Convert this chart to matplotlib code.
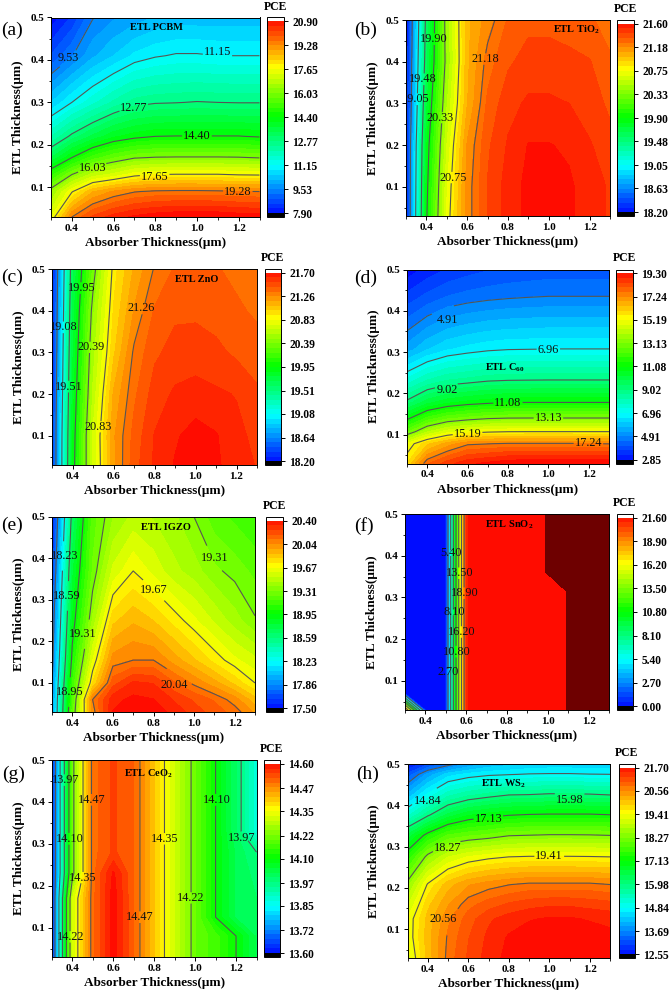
import numpy as np
import matplotlib
matplotlib.use('Agg')
import matplotlib.pyplot as plt
from matplotlib import cm
from matplotlib.colors import LinearSegmentedColormap, BoundaryNorm

plt.rcParams['font.family'] = ['Liberation Serif', 'DejaVu Serif']
plt.rcParams['mathtext.fontset'] = 'custom'
plt.rcParams['mathtext.bf'] = 'Liberation Serif:bold'
plt.rcParams['mathtext.rm'] = 'Liberation Serif:bold'

W, H = 672, 992

# absorber thickness columns, same for all panels
x_abs = [0.3, 0.4, 0.5, 0.6, 0.7, 0.8, 0.9, 1.0, 1.1, 1.2, 1.3]

# (a) PCBM
y_a = [0.03, 0.09, 0.13, 0.17, 0.22, 0.30, 0.41, 0.50]
z_a = [
    [17.3, 19.28, 20.0, 20.4, 20.65, 20.8, 20.88, 20.89, 20.88, 20.8, 20.75],
    [16.3, 17.6, 18.6, 19.0, 19.25, 19.35, 19.38, 19.38, 19.35, 19.3, 19.28],
    [14.9, 16.03, 16.8, 17.1, 17.5, 17.65, 17.68, 17.68, 17.68, 17.62, 17.6],
    [13.4, 14.4, 15.2, 15.65, 15.98, 16.06, 16.08, 16.08, 16.08, 16.06, 16.0],
    [12.1, 12.9, 13.5, 14.0, 14.25, 14.4, 14.42, 14.42, 14.42, 14.42, 14.35],
    [10.5, 11.15, 11.7, 12.2, 12.6, 12.72, 12.75, 12.8, 12.77, 12.75, 12.75],
    [8.9, 9.5, 10.1, 10.5, 10.9, 11.1, 11.2, 11.2, 11.15, 11.15, 11.15],
    [8.0, 8.6, 9.5, 9.8, 10.0, 10.2, 10.3, 10.3, 10.3, 10.3, 10.3],
]
ticks_a = [7.90, 9.53, 11.15, 12.77, 14.40, 16.03, 17.65, 19.28, 20.90]
labels_a = [(.381, .404), (1.10, .419), (.698, .287), (1.0, .222), (.498, .146), (.798, .124), (1.196, .09)]

# (b) TiO2
y_b = [0.03, 0.1, 0.2, 0.3, 0.4, 0.5]
z_b = [
    [18.3, 19.88, 20.68, 21.13, 21.35, 21.47, 21.54, 21.56, 21.53, 21.47, 21.42],
    [18.3, 19.85, 20.65, 21.13, 21.35, 21.47, 21.54, 21.56, 21.53, 21.47, 21.42],
    [18.3, 19.8, 20.58, 21.1, 21.33, 21.44, 21.52, 21.52, 21.5, 21.44, 21.37],
    [18.25, 19.7, 20.48, 21.0, 21.28, 21.4, 21.445, 21.445, 21.43, 21.38, 21.33],
    [18.25, 19.6, 20.4, 20.98, 21.22, 21.33, 21.38, 21.38, 21.37, 21.35, 21.28],
    [18.22, 19.55, 20.42, 20.98, 21.13, 21.27, 21.32, 21.32, 21.3, 21.28, 21.2],
]
ticks_b = [18.20, 18.63, 19.05, 19.48, 19.90, 20.33, 20.75, 21.18, 21.60]
labels_b = [(.437, .454), (.383, .358), (.35, .31), (.465, .266), (.53, .122), (.69, .406)]

# (c) ZnO
y_c = [0.03, 0.1, 0.2, 0.3, 0.4, 0.5]
z_c = [
    [18.35, 19.87, 20.65, 21.15, 21.4, 21.54, 21.62, 21.66, 21.63, 21.56, 21.52],
    [18.35, 19.85, 20.66, 21.16, 21.38, 21.53, 21.6, 21.65, 21.62, 21.55, 21.5],
    [18.32, 19.8, 20.58, 21.1, 21.33, 21.48, 21.54, 21.56, 21.54, 21.52, 21.45],
    [18.3, 19.75, 20.52, 20.98, 21.28, 21.42, 21.47, 21.48, 21.46, 21.42, 21.4],
    [18.28, 19.7, 20.45, 20.92, 21.18, 21.36, 21.42, 21.42, 21.4, 21.37, 21.33],
    [18.25, 19.65, 20.32, 20.87, 21.1, 21.27, 21.36, 21.38, 21.36, 21.32, 21.28],
]
ticks_c = [18.20, 18.64, 19.08, 19.51, 19.95, 20.39, 20.83, 21.26, 21.70]
labels_c = [(.447, .454), (.359, .36), (.489, .312), (.38, .218), (.526, .122), (.735, .406)]

# (d) C60
y_d = [0.03, 0.078, 0.107, 0.14, 0.178, 0.232, 0.307, 0.435, 0.50]
z_d = [
    [15.6, 17.6, 18.3, 18.8, 19.0, 19.2, 19.28, 19.29, 19.29, 19.28, 19.25],
    [14.8, 15.9, 16.6, 17.15, 17.22, 17.3, 17.3, 17.3, 17.3, 17.26, 17.22],
    [12.6, 13.9, 14.6, 14.95, 15.12, 15.19, 15.2, 15.2, 15.2, 15.2, 15.2],
    [10.9, 12.0, 12.6, 12.85, 13.05, 13.13, 13.14, 13.14, 13.14, 13.14, 13.14],
    [9.2, 10.1, 10.55, 10.8, 10.95, 11.06, 11.08, 11.08, 11.08, 11.08, 11.08],
    [7.5, 8.2, 8.6, 8.75, 8.93, 9.0, 9.02, 9.03, 9.03, 9.03, 9.03],
    [5.5, 6.1, 6.5, 6.7, 6.85, 6.93, 6.95, 6.97, 6.97, 6.97, 6.97],
    [3.8, 4.2, 4.5, 4.65, 4.75, 4.82, 4.87, 4.91, 4.91, 4.91, 4.91],
    [3.0, 3.4, 3.7, 3.9, 4.05, 4.15, 4.2, 4.25, 4.25, 4.25, 4.25],
]
ticks_d = [2.85, 4.91, 6.96, 9.02, 11.08, 13.13, 15.19, 17.24, 19.30]
labels_d = [(.5, .378), (1.0, .304), (.5, .208), (.8, .176), (1.0, .14), (.6, .102), (1.198, .079)]

# (e) IGZO
y_e = [0.03, 0.06, 0.1, 0.155, 0.25, 0.37, 0.5]
z_e = [
    [17.9, 19.2, 20.0, 20.33, 20.39, 20.38, 20.3, 20.22, 20.15, 20.08, 19.95],
    [17.9, 19.15, 20.04, 20.3, 20.35, 20.33, 20.25, 20.17, 20.1, 20.0, 19.85],
    [17.85, 19.1, 19.75, 20.15, 20.27, 20.25, 20.12, 20.02, 19.92, 19.8, 19.67],
    [17.8, 19.0, 19.6, 20.0, 20.04, 20.04, 19.93, 19.83, 19.72, 19.62, 19.55],
    [17.75, 18.88, 19.4, 19.8, 19.88, 19.82, 19.72, 19.62, 19.52, 19.42, 19.32],
    [17.65, 18.78, 19.25, 19.55, 19.67, 19.58, 19.48, 19.42, 19.33, 19.28, 19.22],
    [17.55, 18.65, 19.2, 19.38, 19.48, 19.45, 19.4, 19.31, 19.2, 19.15, 19.1],
]
ticks_e = [17.50, 17.86, 18.23, 18.59, 18.95, 19.31, 19.67, 20.04, 20.40]
labels_e = [(.36, .406), (.37, .31), (.453, .219), (.388, .078), (.80, .323), (1.1, .4), (.9, .094)]

# (f) SnO2
y_f = [0.03, 0.07, 0.315, 0.36, 0.50]
z_f = [
    [19.0, 0.5, 0.5, 21.0, 21.5, 21.5, 21.5, 21.5, 21.61, 21.61, 21.61],
    [0.5, 0.5, 0.5, 21.0, 21.5, 21.5, 21.5, 21.5, 21.61, 21.61, 21.61],
    [0.5, 0.5, 0.5, 21.0, 21.5, 21.5, 21.5, 21.5, 21.61, 21.61, 21.61],
    [0.5, 0.5, 0.5, 21.0, 21.5, 21.5, 21.5, 21.61, 21.61, 21.61, 21.61],
    [0.5, 0.5, 0.5, 21.0, 21.5, 21.5, 21.5, 21.61, 21.61, 21.61, 21.61],
]
ticks_f = [0.00, 2.70, 5.40, 8.10, 10.80, 13.50, 16.20, 18.90, 21.60]
labels_f = [(.527, .406), (.566, .358), (.592, .31), (.54, .264), (.579, .217), (.553, .17), (.512, .122)]

# (g) CeO2
y_g = [0.03, 0.08, 0.125, 0.17, 0.23, 0.28, 0.33, 0.50]
z_g = [
    [13.62, 14.30, 14.49, 14.59, 14.5, 14.4, 14.3, 14.2, 14.16, 14.10, 14.02],
    [13.62, 14.30, 14.49, 14.59, 14.5, 14.4, 14.3, 14.2, 14.16, 14.10, 14.02],
    [13.62, 14.30, 14.49, 14.59, 14.5, 14.4, 14.3, 14.2, 14.10, 14.02, 14.0],
    [13.62, 14.30, 14.49, 14.59, 14.5, 14.4, 14.3, 14.2, 14.10, 14.02, 14.0],
    [13.62, 14.2, 14.49, 14.58, 14.5, 14.4, 14.3, 14.2, 14.10, 14.02, 13.99],
    [13.62, 14.2, 14.49, 14.53, 14.5, 14.4, 14.3, 14.2, 14.10, 14.02, 13.97],
    [13.62, 14.2, 14.49, 14.53, 14.5, 14.4, 14.3, 14.2, 14.10, 14.0, 13.88],
    [13.62, 14.2, 14.49, 14.53, 14.5, 14.4, 14.3, 14.2, 14.10, 14.0, 13.88],
]
ticks_g = [13.60, 13.72, 13.85, 13.97, 14.10, 14.22, 14.35, 14.47, 14.60]
labels_g = [(.365, .452), (.494, .405), (.385, .312), (.45, .219), (.39, .078), (.728, .125),
            (.853, .312), (.978, .171), (1.105, .405), (1.227, .313)]

# (h) WS2
y_h = [0.03, 0.08, 0.125, 0.16, 0.208, 0.275, 0.327, 0.377, 0.425, 0.475, 0.50]
z_h = [
    [19.05, 19.95, 20.65, 21.05, 21.35, 21.55, 21.65, 21.69, 21.69, 21.65, 21.6],
    [19.2, 20.0, 20.6, 21.0, 21.3, 21.5, 21.6, 21.65, 21.65, 21.6, 21.55],
    [19.2, 19.95, 20.5, 20.9, 21.2, 21.35, 21.45, 21.5, 21.5, 21.45, 21.4],
    [18.9, 19.8, 20.3, 20.7, 20.9, 21.05, 21.15, 21.2, 21.2, 21.15, 21.1],
    [18.4, 19.45, 20.0, 20.3, 20.45, 20.55, 20.62, 20.62, 20.62, 20.62, 20.56],
    [17.4, 18.4, 18.95, 19.2, 19.33, 19.41, 19.44, 19.44, 19.44, 19.43, 19.41],
    [16.5, 17.3, 17.85, 18.0, 18.1, 18.25, 18.28, 18.31, 18.31, 18.3, 18.27],
    [15.2, 15.9, 16.5, 16.85, 17.0, 17.1, 17.15, 17.17, 17.17, 17.17, 17.13],
    [14.2, 14.9, 15.45, 15.7, 15.85, 15.98, 16.0, 16.05, 16.05, 16.03, 15.98],
    [13.3, 14.0, 14.5, 14.68, 14.78, 14.82, 14.86, 14.87, 14.87, 14.85, 14.84],
    [12.7, 13.2, 13.55, 13.95, 14.2, 14.3, 14.4, 14.45, 14.45, 14.4, 14.4],
]
ticks_h = [12.55, 13.69, 14.84, 15.98, 17.13, 18.27, 19.41, 20.56, 21.70]
labels_h = [(.4, .41), (1.1, .413), (.7, .367), (.5, .296), (1.0, .278), (.476, .124)]

rainbow = LinearSegmentedColormap.from_list('rb', ['#0000ff', '#00ffff', '#00ff00', '#ffff00', '#ff0000'], N=256)
rainbow.set_under('black')
rainbow.set_over('white')
rainbow_f = rainbow.copy()
rainbow_f.set_over('#6e0000')  # the dark block in panel f


def box(left, top, right, bottom):
    return [left / W, 1 - bottom / H, (right - left) / W, (bottom - top) / H]


# letter, etl text and its place, data, axes px, colorbar px, letter px
panels = [
    ('(a)', 'ETL PCBM', (.805, .476), y_a, z_a, ticks_a, labels_a, (51, 17.5, 259.5, 217), (267, 284), (12, 30)),
    ('(b)', r'ETL TiO$_{\mathbf{2}}$', (1.134, .478), y_b, z_b, ticks_b, labels_b, (406, 20, 610, 216), (617, 634), (366, 30)),
    ('(c)', 'ETL ZnO', (1.008, .475), y_c, z_c, ticks_c, labels_c, (52, 269, 257, 465), (265, 281), (12, 277)),
    ('(d)', r'ETL C$_{\mathbf{60}}$', (.783, .262), y_d, z_d, ticks_d, labels_d, (407, 269.5, 609, 463.5), (616, 633), (366, 278)),
    ('(e)', 'ETL IGZO', (.859, .474), y_e, z_e, ticks_e, labels_e, (52, 517, 255, 712), (266, 283), (12, 525)),
    ('(f)', r'ETL SnO$_{\mathbf{2}}$', (.81, .4745), y_f, z_f, ticks_f, labels_f, (405, 514, 609, 710), (617, 633), (364, 526)),
    ('(g)', r'ETL CeO$_{\mathbf{2}}$', (.772, .467), y_g, z_g, ticks_g, labels_g, (52, 760, 256.5, 957), (264, 280), (14, 774)),
    ('(h)', r'ETL WS$_{\mathbf{2}}$', (.773, .453), y_h, z_h, ticks_h, labels_h, (407.5, 764, 610, 958), (619, 635), (368, 774)),
]

# panels whose lines run nearly upright, the label gap has to stay short there
upright = ['(b)', '(c)', '(f)', '(g)']

fig = plt.figure(figsize=(W / 100, H / 100), dpi=100)

for name, etl, etl_xy, ys, zs, ticks, label_xy, ax_px, cb_px, name_px in panels:
    left, top, right, bottom = ax_px
    ax = fig.add_axes(box(left, top, right, bottom))
    levels = np.linspace(ticks[0], ticks[-1], 41)
    cmap = rainbow_f if name == '(f)' else rainbow
    ax.contourf(x_abs, ys, zs, levels=levels, cmap=cmap, extend='both', antialiased=False)
    cs = ax.contour(x_abs, ys, zs, levels=ticks[1:-1], colors='#555555', linewidths=0.8)
    spacing = -8 if name in upright else 1
    texts = ax.clabel(cs, fmt='%.2f', manual=label_xy, inline=True, inline_spacing=spacing, fontsize=8.8, colors='#111111')
    for t, xy in zip(texts, label_xy):
        t.set_rotation(0)
        t.set_position(xy)

    ax.set_xlim(0.3, 1.3)
    ax.set_ylim(0.03, 0.5)
    ax.set_xticks([0.4, 0.6, 0.8, 1.0, 1.2])
    ax.set_xticks([0.3, 0.5, 0.7, 0.9, 1.1, 1.3], minor=True)
    ax.set_yticks([0.1, 0.2, 0.3, 0.4, 0.5])
    ax.set_yticks([0.05, 0.15, 0.25, 0.35, 0.45], minor=True)
    ax.tick_params(which='major', length=3, width=0.7, pad=2, labelsize=8)
    ax.tick_params(which='minor', length=1.8, width=0.6)
    for lab in ax.get_xticklabels() + ax.get_yticklabels():
        lab.set_fontweight('bold')
    for sp in ax.spines.values():
        sp.set_linewidth(0.7)
    ax.set_xlabel('Absorber Thickness(μm)', fontsize=9.5, fontweight='bold')
    ax.set_ylabel('ETL Thickness(μm)', fontsize=9.5, fontweight='bold')
    ax.xaxis.set_label_coords(0.5, -26 / (bottom - top), )
    ax.yaxis.set_label_coords(-33 / (right - left), 0.5)
    ax.xaxis.label.set_verticalalignment('center')
    ax.yaxis.label.set_verticalalignment('center')
    ax.text(etl_xy[0], etl_xy[1], etl, fontsize=7.5, fontweight='bold', ha='center', va='center')

    cax = fig.add_axes(box(cb_px[0], top, cb_px[1], bottom))
    norm = BoundaryNorm(levels, rainbow.N, extend='both')
    cb = fig.colorbar(cm.ScalarMappable(norm=norm, cmap=rainbow), cax=cax, ticks=ticks,
                      extend='both', extendrect=True, extendfrac=0.02, spacing='proportional')
    cb.minorticks_off()
    cb.ax.set_yticklabels(['%.2f' % t for t in ticks], fontsize=8.3, fontweight='bold')
    cb.ax.tick_params(length=3, width=0.7, pad=3)
    cb.outline.set_linewidth(0.7)

    fig.text((cb_px[0] + cb_px[1]) / 2 / W, 1 - (top - 11) / H, 'PCE', fontsize=8.5, fontweight='bold',
             ha='center', va='center')
    fig.text(name_px[0] / W, 1 - name_px[1] / H, name, fontsize=14, ha='center', va='center')

fig.savefig('out.png', dpi=100)
